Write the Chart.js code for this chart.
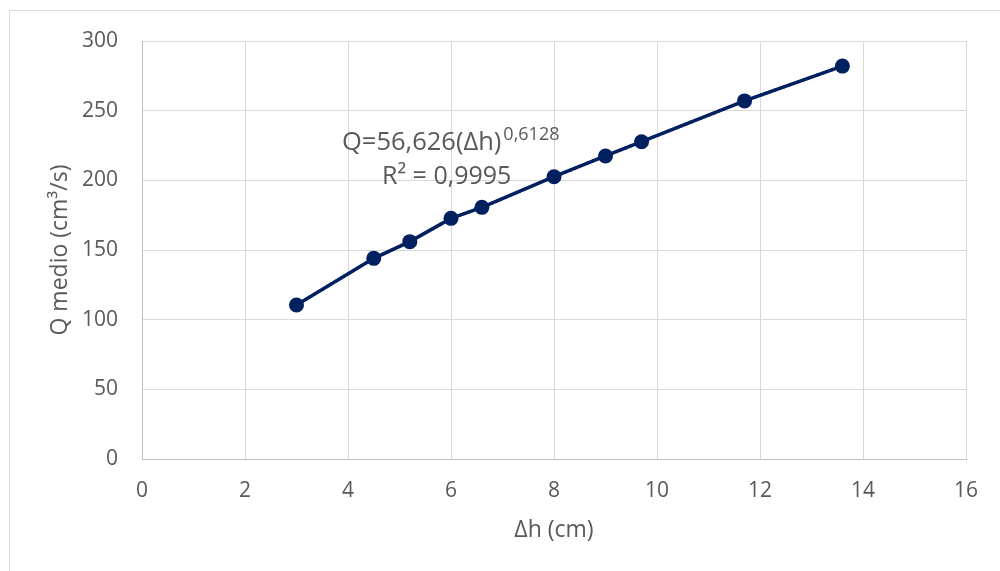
<!DOCTYPE html>
<html>
<head>
<meta charset="utf-8">
<script src="https://cdn.jsdelivr.net/npm/chart.js@4"></script>
<style>
  html, body { margin: 0; padding: 0; background: #fff; }
  #wrap { position: relative; width: 1000px; height: 571px; }
  #frame { position: absolute; left: 9px; top: 10px; width: 1000px; height: 600px;
           border-left: 1px solid #d9d9d9; border-top: 1px solid #d9d9d9; pointer-events: none; }
  canvas { position: absolute; left: 0; top: 0; }
</style>
</head>
<body>
<div id="wrap">
  <canvas id="c" width="1000" height="571"></canvas>
  <div id="frame"></div>
</div>
<script>
const deltaH = [3, 4.5, 5.2, 6, 6.6, 8, 9, 9.7, 11.7, 13.6];
const qMedio = [110.5, 144, 156, 172.7, 180.6, 202.6, 217.5, 227.7, 257, 282];
const xTicks = [0, 2, 4, 6, 8, 10, 12, 14, 16];
const yTicks = [0, 50, 100, 150, 200, 250, 300];
const eqMain = "Q=56,626(\u0394h)";
const eqExp = "0,6128";
const r2Text = "R\u00B2 = 0,9995";
const xTitle = "\u0394h (cm)";
const yTitle = "Q medio (cm\u00B3/s)";

const pts = deltaH.map((x, i) => ({x: x, y: qMedio[i]}));
const navy = '#002060';
const txt = '#595959';
const fontFam = '"Open Sans", Lato, sans-serif';

const labelPlugin = {
  id: 'eqLabel',
  afterDatasetsDraw(chart) {
    const ctx = chart.ctx;
    ctx.save();
    ctx.fillStyle = txt;
    ctx.textBaseline = 'alphabetic';
    ctx.textAlign = 'left';
    ctx.font = '25.5px ' + fontFam;
    const x0 = 342, y0 = 150;
    ctx.fillText(eqMain, x0, y0);
    const w = ctx.measureText(eqMain).width;
    ctx.font = '18px ' + fontFam;
    ctx.fillText(eqExp, x0 + w + 2, y0 - 10);
    ctx.font = '25px ' + fontFam;
    ctx.fillText(r2Text, 382, 184);
    ctx.restore();
  }
};

new Chart(document.getElementById('c'), {
  type: 'scatter',
  data: {
    datasets: [
      {
        data: pts,
        showLine: true,
        borderColor: navy,
        backgroundColor: navy,
        borderWidth: 3.5,
        pointRadius: 7.5,
        pointHoverRadius: 7.5,
        pointBorderWidth: 0,
        order: 1
      },
      {
        data: pts,
        showLine: true,
        borderColor: navy,
        borderWidth: 3,
        borderDash: [2, 3],
        pointRadius: 0,
        order: 2
      }
    ]
  },
  options: {
    responsive: false,
    animation: false,
    events: [],
    layout: { padding: { left: 0, right: 34, top: 41, bottom: 0 } },
    plugins: { legend: { display: false }, tooltip: { enabled: false } },
    scales: {
      x: {
        type: 'linear',
        min: 0, max: 16,
        afterBuildTicks(s) { s.ticks = xTicks.map(v => ({value: v})); },
        afterFit(s) { s.height = 112; },
        grid: { color: '#d9d9d9', lineWidth: 1, drawTicks: false },
        border: { color: '#bfbfbf', width: 1 },
        ticks: { color: txt, font: { family: fontFam, size: 21 }, padding: 19, maxRotation: 0 },
        title: { display: true, text: xTitle, color: txt, font: { family: fontFam, size: 23 }, padding: { top: 0, bottom: 27 } }
      },
      y: {
        type: 'linear',
        min: 0, max: 300,
        afterBuildTicks(s) { s.ticks = yTicks.map(v => ({value: v})); },
        afterFit(s) { s.width = 142; },
        grid: { color: '#d9d9d9', lineWidth: 1, drawTicks: false },
        border: { color: '#bfbfbf', width: 1 },
        ticks: { color: txt, font: { family: fontFam, size: 21 }, padding: 24 },
        title: { display: true, text: yTitle, color: txt, font: { family: fontFam, size: 23 }, padding: { top: 47, bottom: 0 } }
      }
    }
  },
  plugins: [labelPlugin]
});
</script>
</body>
</html>
